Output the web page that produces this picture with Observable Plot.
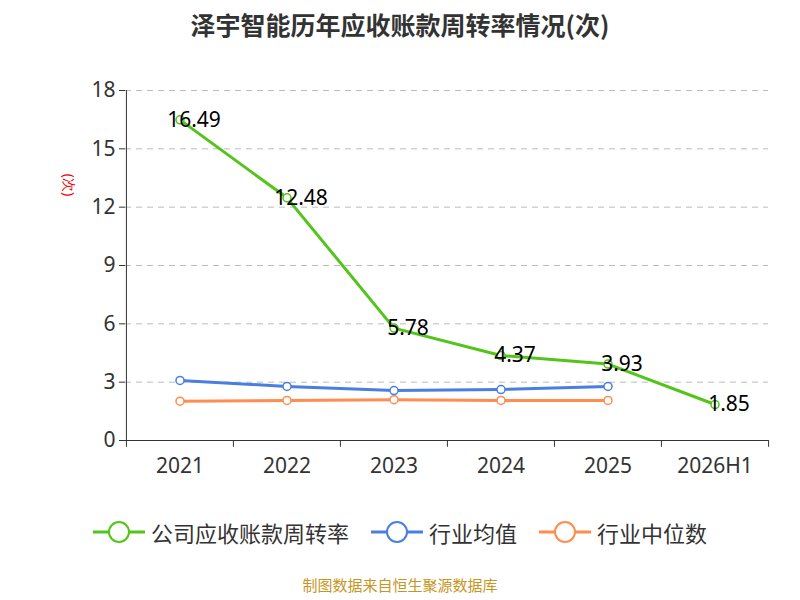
<!DOCTYPE html><html><head><meta charset="utf-8">
<script src="https://cdn.jsdelivr.net/npm/d3@7"></script>
<script src="https://cdn.jsdelivr.net/npm/@observablehq/plot@0.6"></script>
<style>body{margin:0;font-family:"Noto Sans CJK SC","Noto Sans",sans-serif;width:800px;}
.t{height:60px;line-height:48px;text-align:center;font-size:25px;font-weight:bold;color:#333}
.lg{display:flex;justify-content:center;gap:22px;font-size:22px;color:#333;margin-top:26px;align-items:center}
.lg span{display:flex;align-items:center;gap:6px}
.cap{text-align:center;color:#c8961e;font-size:15px;margin-top:26px}</style></head><body>
<div class="t">泽宇智能历年应收账款周转率情况(次)</div><div id="c"></div>
<div class="lg" id="lg"></div><div class="cap">制图数据来自恒生聚源数据库</div>
<script>
const years=["2021","2022","2023","2024","2025","2026H1"];
const company=[16.49,12.48,5.78,4.37,3.93,1.85];
const avgYears=["2021","2022","2023","2024","2025"];
const industryAvg=[3.09,2.78,2.57,2.62,2.78];
const industryMed=[2.02,2.06,2.1,2.06,2.06];
const yTicks=[0,3,6,9,12,15,18];
const names=["公司应收账款周转率","行业均值","行业中位数"];
const colors=["#52c41a","#4a7fe0","#ff8c50"];
const W=800,ML=125,MR=32,bw=(W-ML-MR)/years.length;
const comp=years.map((x,i)=>({x,y:company[i]}));
const avg=avgYears.map((x,i)=>({x,y:industryAvg[i]}));
const med=avgYears.map((x,i)=>({x,y:industryMed[i]}));
const plot=Plot.plot({width:W,height:430,marginLeft:ML,marginRight:MR,marginTop:30,marginBottom:50,
 style:{fontFamily:"Noto Sans, sans-serif",fontSize:"20px",color:"#333"},
 x:{type:"band",domain:years,padding:0,label:null},
 y:{domain:[0,18],ticks:yTicks,label:null},
 marks:[
  Plot.gridY(yTicks.slice(1),{stroke:"#bbb",strokeOpacity:1,strokeDasharray:"6,5"}),
  Plot.axisY({ticks:yTicks,tickSize:6,fontSize:21,tickPadding:4}),
  Plot.ruleX([years[0]],{x:d=>d,dx:-bw/2,stroke:"#333"}),
  Plot.ruleY([0],{stroke:"#333"}),
  Plot.axisX({tickSize:0,fontSize:21,tickPadding:18}),
  Plot.ruleX(years,{x:d=>d,y1:0,y2:-0.35,dx:-bw/2,stroke:"#333"}),
  Plot.ruleX([years[years.length-1]],{x:d=>d,y1:0,y2:-0.35,dx:bw/2,stroke:"#333"}),
  Plot.line(med,{x:"x",y:"y",stroke:colors[2],strokeWidth:3}),
  Plot.line(avg,{x:"x",y:"y",stroke:colors[1],strokeWidth:3}),
  Plot.line(comp,{x:"x",y:"y",stroke:colors[0],strokeWidth:3}),
  Plot.dot(med,{x:"x",y:"y",r:4,stroke:colors[2],fill:"white",strokeWidth:1.5}),
  Plot.dot(avg,{x:"x",y:"y",r:4,stroke:colors[1],fill:"white",strokeWidth:1.5}),
  Plot.dot(comp,{x:"x",y:"y",r:4,stroke:colors[0],fill:"white",strokeWidth:1.5}),
  Plot.text(comp,{x:"x",y:"y",text:d=>d.y.toFixed(2),fontSize:21,fill:"#000",dx:14,dy:0})
 ]});
plot.style.overflow="visible";
const ns="http://www.w3.org/2000/svg";
const t=document.createElementNS(ns,"text");
t.setAttribute("transform","translate(64,125) rotate(90)");t.setAttribute("text-anchor","middle");
t.setAttribute("fill","#e00");t.setAttribute("font-size","14");t.textContent="(次)";
plot.appendChild(t);
document.getElementById("c").appendChild(plot);
document.getElementById("lg").innerHTML=names.map((n,i)=>`<span><svg width="52" height="24"><line x1="0" y1="12" x2="52" y2="12" stroke="${colors[i]}" stroke-width="3"/><circle cx="26" cy="12" r="10" fill="white" stroke="${colors[i]}" stroke-width="2"/></svg>${n}</span>`).join("");
</script></body></html>
